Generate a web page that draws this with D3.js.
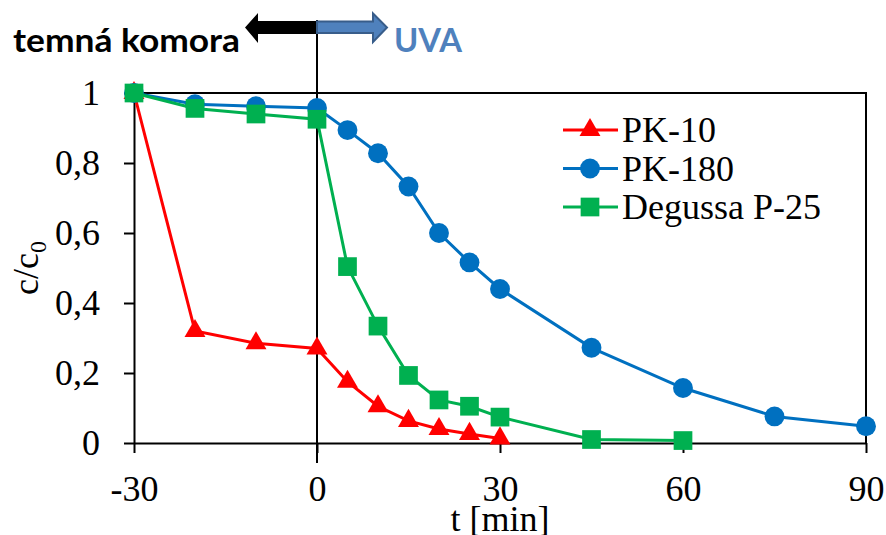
<!DOCTYPE html>
<html lang="cs">
<head>
<meta charset="utf-8">
<title>c/c0 vs t</title>
<script src="https://cdn.jsdelivr.net/npm/d3@7"></script>
<style>
  body { margin: 0; background: #fff; }
  .axis path, .axis line { stroke: #000; stroke-width: 2; fill: none; }
  .axis text { font-family: "Liberation Serif", "Times New Roman", serif; font-size: 36px; fill: #000; }
  .label { font-family: "Liberation Serif", "Times New Roman", serif; font-size: 36px; fill: #000; }
  .legend text { font-family: "Liberation Serif", "Times New Roman", serif; font-size: 36px; fill: #000; }
  .note { font-family: Lato, "Open Sans", sans-serif; font-weight: bold; font-size: 33px; }
</style>
</head>
<body>
<script>
// data
var tPK10 = [-30, -20, -10, 0, 5, 10, 15, 20, 25, 30];
var cPK10 = [1, 0.32, 0.285, 0.27, 0.175, 0.105, 0.063, 0.04, 0.026, 0.013];

var tPK180 = [-30, -20, -10, 0, 5, 10, 15, 20, 25, 30, 45, 60, 75, 90];
var cPK180 = [1, 0.968, 0.962, 0.957, 0.894, 0.828, 0.733, 0.6, 0.516, 0.44, 0.272, 0.157, 0.076, 0.048];

var tP25 = [-30, -20, -10, 0, 5, 10, 15, 20, 25, 30, 45, 60];
var cP25 = [1, 0.956, 0.94, 0.925, 0.504, 0.334, 0.193, 0.123, 0.105, 0.074, 0.01, 0.007];

var xTicks = [-30, 0, 30, 60, 90];
var yTicks = [0, 0.2, 0.4, 0.6, 0.8, 1];

var series = [
  {name: "PK-10", t: tPK10, c: cPK10, color: "#ff0000", symbol: d3.symbolTriangle, size: 190},
  {name: "PK-180", t: tPK180, c: cPK180, color: "#0070c0", symbol: d3.symbolCircle, size: 310},
  {name: "Degussa P-25", t: tP25, c: cP25, color: "#00b050", symbol: d3.symbolSquare, size: 350}
];

var w = 886, h = 535;
var margin = {top: 93, right: 20, bottom: 92, left: 134};
var width = 866 - margin.left, height = 443 - margin.top;

var svg = d3.select("body").append("svg")
  .attr("width", w)
  .attr("height", h);

var g = svg.append("g")
  .attr("transform", "translate(" + margin.left + "," + margin.top + ")");

var x = d3.scaleLinear().domain([-30, 90]).range([0, width]);
var y = d3.scaleLinear().domain([0, 1]).range([height, 0]);

// frame (top and right)
g.append("path")
  .attr("d", "M0,0H" + width + "V" + height)
  .attr("fill", "none")
  .attr("stroke", "#000")
  .attr("stroke-width", 2);

// axes
g.append("g")
  .attr("class", "axis")
  .call(d3.axisLeft(y).tickValues(yTicks).tickSize(10).tickSizeOuter(0).tickPadding(24)
    .tickFormat(function(d) { return String(d).replace(".", ","); }));

g.append("g")
  .attr("class", "axis")
  .attr("transform", "translate(0," + height + ")")
  .call(d3.axisBottom(x).tickValues(xTicks).tickSize(10).tickSizeOuter(0).tickPadding(22)
    .tickFormat(function(d) { return String(d); }));

// vertical line at t = 0
g.append("line")
  .attr("x1", x(0)).attr("x2", x(0))
  .attr("y1", 20 - margin.top).attr("y2", height + 20)
  .attr("stroke", "#000")
  .attr("stroke-width", 2);

// axis names
svg.append("text")
  .attr("class", "label")
  .attr("text-anchor", "middle")
  .attr("x", margin.left + width / 2)
  .attr("y", 531)
  .text("t [min]");

var yl = svg.append("text")
  .attr("class", "label")
  .attr("text-anchor", "middle")
  .attr("transform", "translate(38,268) rotate(-90)");
yl.append("tspan").text("c/c");
yl.append("tspan").attr("font-size", "24px").attr("dy", 8).text("0");

// lines and markers
var line = d3.line()
  .x(function(d) { return x(d[0]); })
  .y(function(d) { return y(d[1]); });

series.forEach(function(s) {
  var pts = s.t.map(function(t, i) { return [t, s.c[i]]; });
  g.append("path")
    .datum(pts)
    .attr("d", line)
    .attr("fill", "none")
    .attr("stroke", s.color)
    .attr("stroke-width", 3);
  g.append("g")
    .selectAll("path")
    .data(pts)
    .enter()
    .append("path")
    .attr("d", d3.symbol().type(s.symbol).size(s.size))
    .attr("transform", function(d) { return "translate(" + x(d[0]) + "," + y(d[1]) + ")"; })
    .attr("fill", s.color);
});

// legend
var legend = svg.append("g").attr("class", "legend");
series.forEach(function(s, i) {
  var ly = 130 + i * 38.5;
  legend.append("line")
    .attr("x1", 563).attr("x2", 618)
    .attr("y1", ly).attr("y2", ly)
    .attr("stroke", s.color)
    .attr("stroke-width", 3);
  legend.append("path")
    .attr("d", d3.symbol().type(s.symbol).size(s.size))
    .attr("transform", "translate(590," + ly + ")")
    .attr("fill", s.color);
  legend.append("text")
    .attr("x", 622)
    .attr("y", ly + 12)
    .text(s.name);
});

// dark chamber / UVA arrows
var x0 = margin.left + x(0);
svg.append("path")
  .attr("d", "M" + x0 + ",21V34H258V43L245,27.5L258,13V21Z")
  .attr("fill", "#000");
svg.append("path")
  .attr("d", "M" + x0 + ",21.5V33H373V42L387,27.5L373,13.5V21.5Z")
  .attr("fill", "#4f81bd")
  .attr("stroke", "#385d8a")
  .attr("stroke-width", 2);

svg.append("text")
  .attr("class", "note")
  .attr("x", 13).attr("y", 52)
  .attr("textLength", 227)
  .attr("lengthAdjust", "spacingAndGlyphs")
  .attr("fill", "#000")
  .text("temná komora");

svg.append("text")
  .attr("class", "note")
  .attr("x", 394).attr("y", 52)
  .attr("textLength", 68)
  .attr("lengthAdjust", "spacingAndGlyphs")
  .attr("fill", "#4f81bd")
  .text("UVA");
</script>
</body>
</html>
